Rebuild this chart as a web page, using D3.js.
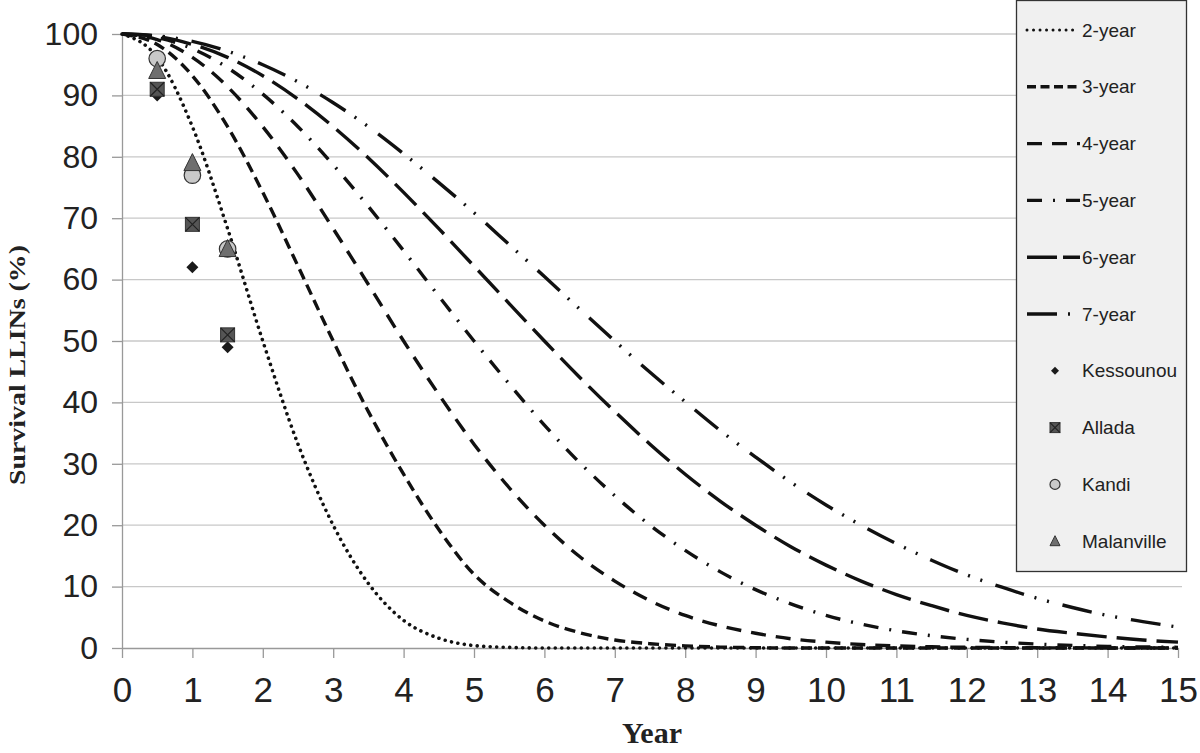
<!DOCTYPE html>
<html>
<head>
<meta charset="utf-8">
<script src="https://cdn.jsdelivr.net/npm/d3@7"></script>
<style>
  body { margin: 0; background: #fff; }
  svg { display: block; }
</style>
</head>
<body>
<svg width="1200" height="753"></svg>
<script>

// years sampled along the curves
const years = [0, 0.5, 1, 1.5, 2, 2.5, 3, 3.5, 4, 4.5, 5, 5.5, 6, 6.5, 7, 7.5,
  8, 8.5, 9, 9.5, 10, 10.5, 11, 11.5, 12, 12.5, 13, 13.5, 14, 14.5, 15];

// survival (%)
const y2 = [100, 96.2, 84.9, 68.3, 50, 33.2, 20, 10.5, 4.5, 1.6, 0.4, 0.1, 0, 0, 0, 0,
  0, 0, 0, 0, 0, 0, 0, 0, 0, 0, 0, 0, 0, 0, 0];
const y3 = [100, 98.3, 93.2, 84.9, 74.2, 62.2, 50, 38.5, 28.3, 19.3, 12, 7.5, 4.4, 2.5, 1.3, 0.7,
  0.35, 0.15, 0.05, 0, 0, 0, 0, 0, 0, 0, 0, 0, 0, 0, 0];
const y4 = [100, 99.1, 96.2, 91.4, 84.9, 77.1, 68.3, 59.2, 50, 41.3, 33.2, 26.1, 20, 14.9, 10.9, 7.7,
  5.3, 3.6, 2.4, 1.5, 0.95, 0.57, 0.34, 0.2, 0.11, 0.06, 0.03, 0.02, 0.01, 0, 0];
const y5 = [100, 99.4, 97.6, 94.5, 90.2, 84.9, 78.7, 71.9, 64.7, 57.3, 50, 43, 36.3, 30.2, 24.8, 20,
  15.9, 12.4, 9.5, 7.2, 5.3, 3.9, 2.8, 2, 1.4, 0.95, 0.64, 0.42, 0.27, 0.17, 0.11];
const y6 = [100, 99.6, 98.3, 96.2, 93.2, 89.4, 84.9, 79.8, 74.2, 68.3, 62.2, 56.1, 50, 44.1, 38.5, 33.2,
  28.3, 23.9, 20, 16.5, 13.5, 10.9, 8.7, 6.9, 5.3, 4.1, 3.1, 2.4, 1.8, 1.3, 0.95];
const y7 = [100, 99.7, 98.8, 97.2, 95, 92.2, 88.8, 84.9, 80.5, 75.8, 70.9, 65.7, 60.5, 55.2, 50, 44.9,
  40.1, 35.4, 31.1, 27, 23.3, 20, 17, 14.3, 11.9, 9.9, 8.1, 6.6, 5.3, 4.3, 3.4];

const curveNames = ['2-year', '3-year', '4-year', '5-year', '6-year', '7-year'];

// observed points
const obsYears = [0.5, 1, 1.5];
const kessounou = [90, 62, 49];
const allada = [91, 69, 51];
const kandi = [96, 77, 65];
const malanville = [94, 79, 65];
const siteNames = ['Kessounou', 'Allada', 'Kandi', 'Malanville'];

const xTicks = [0, 1, 2, 3, 4, 5, 6, 7, 8, 9, 10, 11, 12, 13, 14, 15];
const yTicks = [0, 10, 20, 30, 40, 50, 60, 70, 80, 90, 100];

const svg = d3.select('svg');

const x = d3.scaleLinear().domain([0, 15]).range([122, 1178]);
const y = d3.scaleLinear().domain([0, 100]).range([648, 34]);

// gridlines
svg.append('g')
  .selectAll('line')
  .data(yTicks.filter(d => d > 0))
  .enter()
  .append('line')
  .attr('x1', x(0))
  .attr('x2', 1182)
  .attr('y1', d => y(d))
  .attr('y2', d => y(d))
  .attr('stroke', '#c8c8c8')
  .attr('stroke-width', 1.3);

// axes
const yAxis = svg.append('g')
  .attr('transform', 'translate(' + x(0) + ',0)')
  .call(d3.axisLeft(y).tickValues(yTicks).tickSize(10).tickPadding(14).tickSizeOuter(0));

const xAxis = svg.append('g')
  .attr('transform', 'translate(0,' + y(0) + ')')
  .call(d3.axisBottom(x).tickValues(xTicks).tickSize(10).tickPadding(19).tickSizeOuter(0));

[xAxis, yAxis].forEach(function (a) {
  a.selectAll('path, line').attr('stroke', '#999').attr('stroke-width', 1.3);
  a.selectAll('text').style('font-family', '"Liberation Sans", Arial, sans-serif').attr('fill', '#222');
});
yAxis.selectAll('text').style('font-size', '32px');
xAxis.selectAll('text').style('font-size', '35px');

// axis titles
svg.append('text')
  .attr('text-anchor', 'middle')
  .attr('transform', 'translate(25,' + 365 + ')rotate(-90)')
  .attr('textLength', 240)
  .attr('lengthAdjust', 'spacingAndGlyphs')
  .style('font-family', '"Liberation Serif", "Times New Roman", serif')
  .style('font-weight', 'bold')
  .style('font-size', '24px')
  .attr('fill', '#222')
  .text('Survival LLINs (%)');

svg.append('text')
  .attr('x', 652)
  .attr('y', 743)
  .attr('text-anchor', 'middle')
  .attr('textLength', 60)
  .attr('lengthAdjust', 'spacingAndGlyphs')
  .style('font-family', '"Liberation Serif", "Times New Roman", serif')
  .style('font-weight', 'bold')
  .style('font-size', '30px')
  .attr('fill', '#222')
  .text('Year');

// line styles for the six curves
const dashes = ['0.01,6.5', '11,6', '15,10', '15,11,2,11', '30,10', '30,11,2,11,2,14'];
const curveValues = [y2, y3, y4, y5, y6, y7];

const line = d3.line()
  .x(d => x(d[0]))
  .y(d => y(d[1]))
  .curve(d3.curveMonotoneX);

svg.append('g')
  .selectAll('path')
  .data(curveValues)
  .enter()
  .append('path')
  .attr('d', v => line(years.map((t, i) => [t, v[i]])))
  .attr('fill', 'none')
  .attr('stroke', '#111')
  .attr('stroke-width', (v, i) => i === 0 ? 3.6 : 3.4)
  .attr('stroke-linecap', (v, i) => i === 0 ? 'round' : 'butt')
  .attr('stroke-dasharray', (v, i) => dashes[i]);

// marker drawing
function marker(g, type, s) {
  if (type === 0) {
    g.append('path')
      .attr('d', 'M0,' + (-s / 2) + 'L' + (s / 2) + ',0L0,' + (s / 2) + 'L' + (-s / 2) + ',0Z')
      .attr('fill', '#1a1a1a');
  } else if (type === 1) {
    g.append('rect')
      .attr('x', -s / 2).attr('y', -s / 2).attr('width', s).attr('height', s)
      .attr('fill', '#555').attr('stroke', '#333').attr('stroke-width', 1);
    g.append('path')
      .attr('d', 'M' + (-s / 2) + ',' + (-s / 2) + 'L' + (s / 2) + ',' + (s / 2) +
        'M' + (s / 2) + ',' + (-s / 2) + 'L' + (-s / 2) + ',' + (s / 2))
      .attr('stroke', '#222').attr('stroke-width', 1.2);
  } else if (type === 2) {
    g.append('circle')
      .attr('r', s / 2)
      .attr('fill', '#c9c9c9').attr('stroke', '#333').attr('stroke-width', 1.2);
  } else {
    g.append('path')
      .attr('d', 'M0,' + (-s * 0.55) + 'L' + (s / 2) + ',' + (s * 0.45) + 'L' + (-s / 2) + ',' + (s * 0.45) + 'Z')
      .attr('fill', '#6e6e6e').attr('stroke', '#333').attr('stroke-width', 1);
  }
}

const sites = [kessounou, allada, kandi, malanville];
const sizes = [12, 14, 16.5, 17];
sites.forEach(function (vals, k) {
  vals.forEach(function (v, i) {
    const g = svg.append('g')
      .attr('transform', 'translate(' + x(obsYears[i]) + ',' + y(v) + ')');
    marker(g, k, sizes[k]);
  });
});

// legend
const legend = svg.append('g');
legend.append('rect')
  .attr('x', 1016.5)
  .attr('y', 0.5)
  .attr('width', 170)
  .attr('height', 571)
  .attr('fill', '#f0f0f0')
  .attr('stroke', '#333')
  .attr('stroke-width', 1.3);

const legendNames = curveNames.concat(siteNames);
legendNames.forEach(function (name, i) {
  const cy = 30 + i * 56.8;
  if (i < 6) {
    legend.append('line')
      .attr('x1', 1027).attr('x2', i === 0 ? 1073 : 1080)
      .attr('y1', cy).attr('y2', cy)
      .attr('stroke', '#111')
      .attr('stroke-width', i === 0 ? 3 : 3.4)
      .attr('stroke-linecap', i === 0 ? 'round' : 'butt')
      .attr('stroke-dasharray', i === 0 ? '0.01,6.5' : ['', '9,4.5', '15,10', '15,11,2,11', '30,6', '30,11,2,11'][i]);
  } else {
    const g = legend.append('g').attr('transform', 'translate(1055,' + cy + ')');
    marker(g, i - 6, [8, 10, 10, 10][i - 6]);
  }
  legend.append('text')
    .attr('x', 1082)
    .attr('y', cy)
    .attr('dy', '0.35em')
    .style('font-family', '"Liberation Sans", Arial, sans-serif')
    .style('font-size', '19px')
    .attr('fill', '#222')
    .text(name);
});

</script>
</body>
</html>
